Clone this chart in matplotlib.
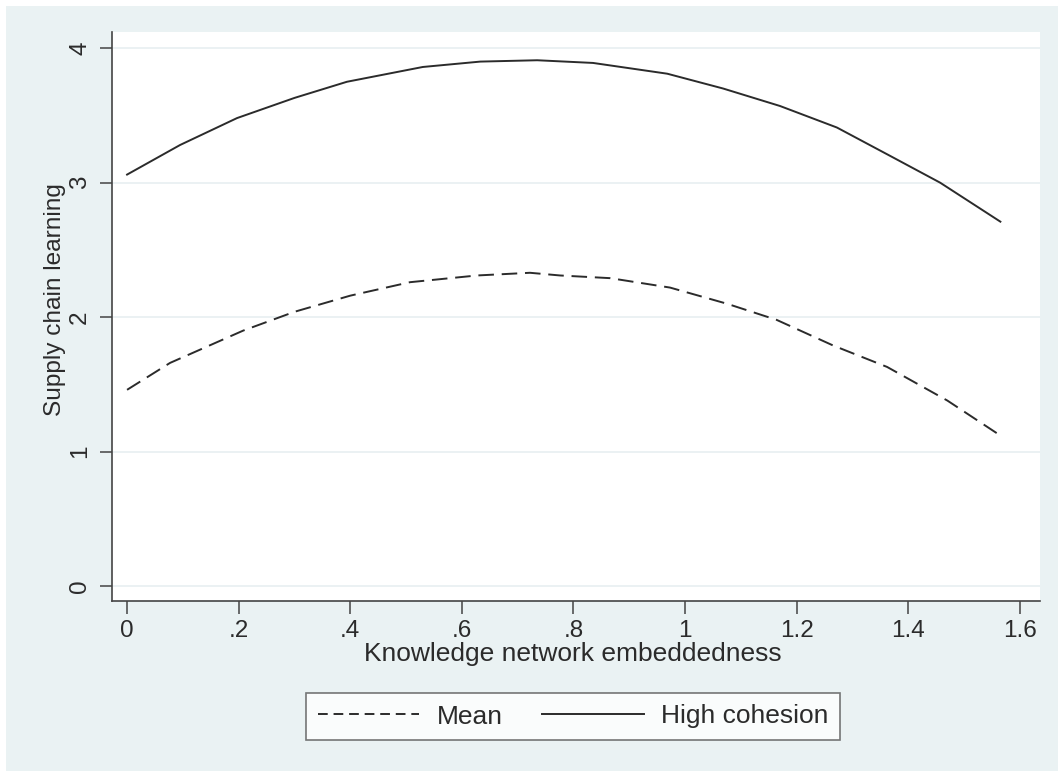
import matplotlib
matplotlib.use('Agg')
import matplotlib.pyplot as plt
from matplotlib.patches import Rectangle

# values
mean_x = [0, 0.077, 0.208, 0.30, 0.40, 0.507, 0.627, 0.722, 0.776, 0.866, 0.973, 1.075, 1.164, 1.265, 1.362, 1.47, 1.565]
mean_y = [1.46, 1.66, 1.90, 2.04, 2.16, 2.26, 2.31, 2.33, 2.31, 2.29, 2.22, 2.10, 1.98, 1.79, 1.63, 1.38, 1.12]
high_x = [0, 0.095, 0.197, 0.30, 0.394, 0.53, 0.633, 0.735, 0.835, 0.968, 1.068, 1.17, 1.272, 1.367, 1.457, 1.565]
high_y = [3.06, 3.28, 3.48, 3.63, 3.75, 3.86, 3.90, 3.91, 3.89, 3.81, 3.70, 3.57, 3.41, 3.20, 3.00, 2.71]

x_ticks = [0, 0.2, 0.4, 0.6, 0.8, 1.0, 1.2, 1.4, 1.6]
x_tick_labels = ['0', '.2', '.4', '.6', '.8', '1', '1.2', '1.4', '1.6']
y_ticks = [0, 1, 2, 3, 4]

BG = '#EAF2F3'
INK = '#2b2b2b'

plt.rcParams['font.family'] = ['Liberation Sans', 'DejaVu Sans']

fig = plt.figure(figsize=(10.58, 7.71), dpi=100)
fig.patch.set_facecolor(BG)
# thin white strips on the top and left edges, as in the reference
fig.patches.append(Rectangle((0, 1 - 6 / 771), 1, 6 / 771, transform=fig.transFigure,
                             facecolor='white', edgecolor='none', zorder=-10))
fig.patches.append(Rectangle((0, 0), 6 / 1058, 1, transform=fig.transFigure,
                             facecolor='white', edgecolor='none', zorder=-10))

ax = fig.add_axes([112 / 1058, 1 - 601 / 771, 928 / 1058, 569 / 771])
ax.set_facecolor('white')

ax.plot(mean_x, mean_y, color=INK, lw=1.4, dashes=(8, 4), label='Mean')
ax.plot(high_x, high_y, color=INK, lw=1.4, label='High cohesion')

ax.set_xlim(-0.027, 1.636)
ax.set_ylim(-0.11, 4.12)

ax.set_xticks(x_ticks)
ax.set_xticklabels(x_tick_labels)
ax.set_yticks(y_ticks)
ax.set_yticklabels([str(v) for v in y_ticks], rotation=90, va='center')
ax.grid(axis='y', color='#E6EEF0', lw=1.1)
ax.set_axisbelow(True)

for side in ['top', 'right']:
    ax.spines[side].set_visible(False)
for side in ['left', 'bottom']:
    ax.spines[side].set_color('#444444')
    ax.spines[side].set_linewidth(1.2)
ax.tick_params(length=9, width=1.1, color='#444444', labelsize=17.5, labelcolor=INK, pad=5)
ax.tick_params(axis='y', pad=6)

ax.set_xlabel('Knowledge network embeddedness', fontsize=19, color=INK)
ax.xaxis.set_label_coords(0.497, -0.072)
ax.set_ylabel('Supply chain learning', fontsize=17.6, color=INK)
ax.yaxis.set_label_coords(-0.05, 0.529)

leg = fig.legend(loc='center', bbox_to_anchor=(573 / 1058, 1 - 716.5 / 771), ncol=2,
                 fontsize=19, frameon=True, fancybox=False, handlelength=3.85,
                 handletextpad=0.65, columnspacing=1.5, borderpad=0.45)
leg.get_frame().set_edgecolor('#555555')
leg.get_frame().set_linewidth(1.2)
for line in leg.get_lines():
    line.set_linewidth(1.4)
leg.get_lines()[0].set_dashes((5, 3))
for t in leg.get_texts():
    t.set_color(INK)

fig.savefig('out.png', dpi=100, facecolor=fig.get_facecolor())
